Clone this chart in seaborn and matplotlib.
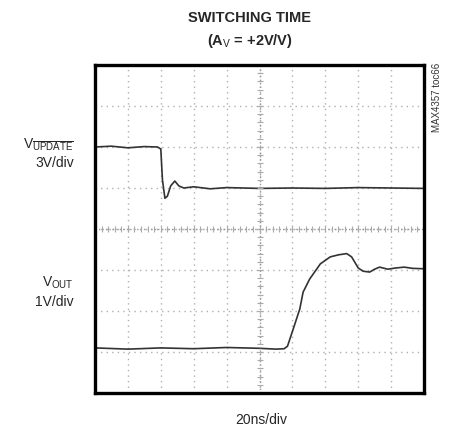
import numpy as np
import pandas as pd
import matplotlib
matplotlib.use("Agg")
import matplotlib.pyplot as plt
import seaborn as sns

sns.set_style("white")
plt.rcParams['font.family'] = ['Liberation Sans', 'DejaVu Sans']
plt.rcParams['mathtext.fontset'] = 'custom'
plt.rcParams['mathtext.rm'] = 'Liberation Sans'
plt.rcParams['mathtext.it'] = 'Liberation Sans'

# time in ns (20ns/div, 10 div), level in divisions (8 div, centre = 0)
upd_t = [0, 10, 20, 30, 38, 40, 41, 42.5, 44, 46, 48.5, 51, 54, 60, 70, 80, 100, 120, 140, 160, 180, 200]
upd_v = [2.0, 2.02, 1.98, 2.01, 2.0, 1.95, 1.2, 0.75, 0.8, 1.05, 1.17, 1.05, 1.0, 1.03, 0.98, 1.01, 0.99, 1.0, 0.99, 1.01, 1.0, 0.99]
out_t = [0, 20, 40, 60, 80, 100, 110, 115, 117, 120, 124.5, 126.5, 130.5, 137, 143, 148, 153, 156, 160, 163, 167, 170, 173, 178, 183, 188, 193, 200]
out_v = [-2.9, -2.93, -2.9, -2.92, -2.89, -2.91, -2.93, -2.92, -2.86, -2.5, -1.95, -1.54, -1.22, -0.85, -0.68, -0.63, -0.6, -0.68, -0.95, -1.03, -1.05, -0.98, -0.93, -0.98, -0.95, -0.93, -0.96, -0.97]

fig = plt.figure(figsize=(4.49, 4.31), dpi=100)
ax = fig.add_axes([95/449, 1 - 394/431, 329/449, 328/431])

df = pd.concat([pd.DataFrame({"t": upd_t, "v": upd_v, "trace": "update"}),
                pd.DataFrame({"t": out_t, "v": out_v, "trace": "out"})])
sns.lineplot(data=df, x="t", y="v", units="trace", estimator=None, color="#333333",
             lw=1.2, sort=False, ax=ax, legend=False)

ax.set_xlim(0, 200)
ax.set_ylim(-4, 4)
ax.set_xlabel("")
ax.set_ylabel("")
ax.set_xticks(np.arange(0, 201, 20))
ax.set_yticks(np.arange(-4, 5, 1))
ax.grid(True, color="#b0b0b0", linestyle=(0, (1, 3)), lw=1.0)
ax.tick_params(which="both", length=0, labelleft=False, labelbottom=False)

# centre cross with small ticks
ax.axvline(100, color="#999999", lw=1.0, linestyle=(0, (1, 1.5)))
ax.axhline(0, color="#999999", lw=1.0, linestyle=(0, (1, 1.5)))
mx = np.arange(0, 201, 4)
ax.plot(mx, np.zeros_like(mx), ls="none", marker="|", ms=4, color="#aaaaaa", mew=0.8)
my = np.arange(-4, 4.01, 0.2)
ax.plot(np.full_like(my, 100), my, ls="none", marker="_", ms=4, color="#aaaaaa", mew=0.8)

for s in ax.spines.values():
    s.set_linewidth(2.4)
    s.set_color("black")

fig.text(250/449, 1 - 18/431, "SWITCHING TIME", ha="center", va="center",
         fontsize=10.5, fontweight="bold")
fig.text(250/449, 1 - 41/431, r"(A$_\mathrm{V}$ = +2V/V)", ha="center", va="center",
         fontsize=10.5, fontweight="bold")

fig.text(74/449, 1 - 145/431, r"V$_{\overline{\mathrm{UPDATE}}}$", ha="right", va="center", fontsize=10)
fig.text(74/449, 1 - 163/431, "3V/div", ha="right", va="center", fontsize=10)
fig.text(74/449, 1 - 283/431, r"V$_\mathrm{OUT}$", ha="right", va="center", fontsize=10)
fig.text(74/449, 1 - 302/431, "1V/div", ha="right", va="center", fontsize=10)

fig.text(261/449, 1 - 420/431, "20ns/div", ha="center", va="center", fontsize=10)
fig.text(437/449, 1 - 97/431, "MAX4357 toc66", ha="center", va="center",
         rotation=90, fontsize=7, color="#333333")

fig.savefig("out.png", dpi=100)
